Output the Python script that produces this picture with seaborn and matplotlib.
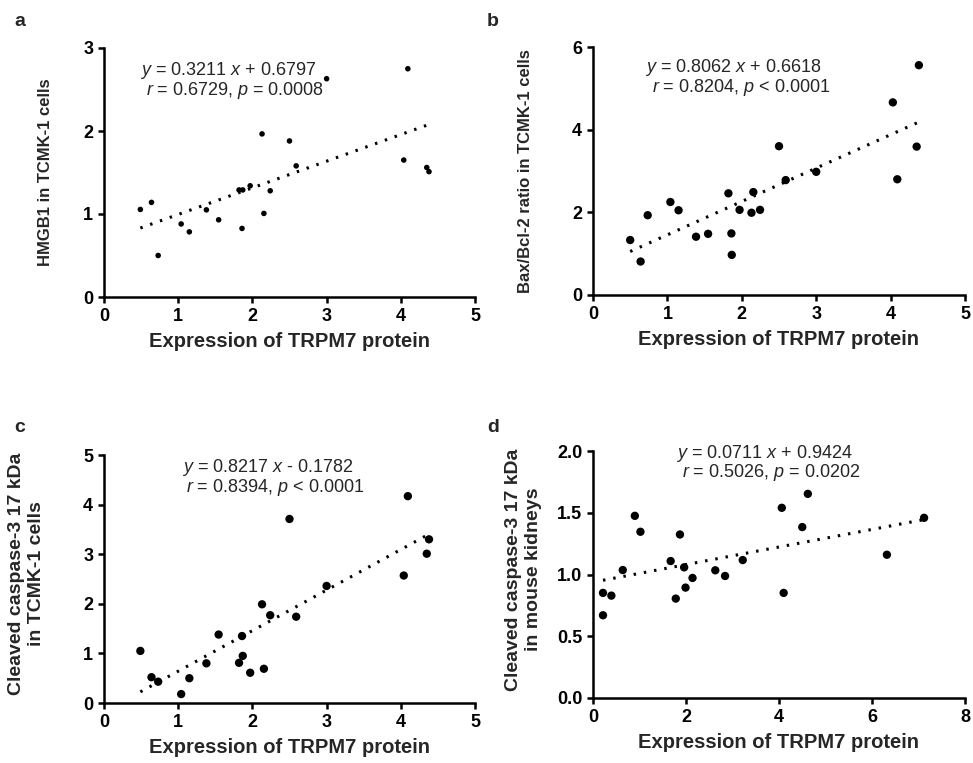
import matplotlib
matplotlib.use('Agg')
import matplotlib.pyplot as plt
import seaborn as sns

# shared x (TRPM7 expression, TCMK-1 cells)
trpm7_cells = [0.49, 0.64, 0.73, 1.04, 1.15, 1.38, 1.545, 1.82, 1.87, 1.86, 1.97,
               2.13, 2.155, 2.24, 2.50, 2.59, 3.00, 4.04, 4.095, 4.35, 4.38]
hmgb1 = [1.055, 1.14, 0.50, 0.88, 0.785, 1.05, 0.93, 1.29, 1.29, 0.826, 1.34,
         1.965, 1.007, 1.28, 1.88, 1.58, 2.63, 1.65, 2.75, 1.56, 1.51]
bax_bcl2_x = [0.50, 0.64, 0.735, 1.04, 1.15, 1.385, 1.547, 1.82, 1.86, 1.865, 1.97,
              2.13, 2.155, 2.245, 2.50, 2.59, 3.00, 4.03, 4.09, 4.35, 4.38]
bax_bcl2 = [1.33, 0.81, 1.93, 2.25, 2.05, 1.41, 1.48, 2.46, 1.49, 0.97, 2.06,
            1.99, 2.49, 2.06, 3.60, 2.78, 2.98, 4.66, 2.80, 3.59, 5.56]
casp3_cells_x = [0.49, 0.64, 0.73, 1.04, 1.15, 1.38, 1.545, 1.82, 1.86, 1.87, 1.97,
                 2.13, 2.155, 2.24, 2.50, 2.59, 3.00, 4.04, 4.095, 4.35, 4.38]
casp3_cells = [1.05, 0.52, 0.43, 0.18, 0.50, 0.80, 1.38, 0.81, 1.35, 0.95, 0.61,
               1.99, 0.69, 1.77, 3.71, 1.74, 2.36, 2.57, 4.17, 3.01, 3.30]
# mouse kidneys
trpm7_kidney = [0.215, 0.215, 0.395, 0.64, 0.90, 1.02, 1.67, 1.78, 1.87, 1.96, 1.99,
                2.14, 2.63, 2.84, 3.22, 4.06, 4.10, 4.50, 4.62, 6.32, 7.12]
casp3_kidney = [0.851, 0.67, 0.829, 1.036, 1.475, 1.346, 1.109, 0.805, 1.324, 1.058, 0.894,
                0.972, 1.034, 0.988, 1.117, 1.54, 0.851, 1.384, 1.653, 1.16, 1.459]

W, H = 973, 763
plt.rcParams['mathtext.fontset'] = 'custom'
plt.rcParams['mathtext.rm'] = 'Liberation Sans'
plt.rcParams['mathtext.it'] = 'Liberation Sans:italic'

sns.set_theme(style='ticks')
plt.rcParams['font.family'] = ['Liberation Sans', 'DejaVu Sans']

fig = plt.figure(figsize=(W / 100, H / 100), dpi=100)


def px_axes(x0, x1, y0, y1):
    return fig.add_axes([x0 / W, 1 - y1 / H, (x1 - x0) / W, (y1 - y0) / H])


panels = [
    dict(ax=px_axes(104, 475, 48, 297), x=trpm7_cells, y=hmgb1, s=16,
         xlim=(0, 5), xt=[0, 1, 2, 3, 4, 5], ylim=(0, 3), yt=[0, 1, 2, 3], yfmt='%d',
         ylabel='HMGB1 in TCMK-1 cells', yfs=12, ylc=(-0.137, 0.5), letter='a', lpos=(14, 26),
         eq=('$y$ = 0.3211 $x$ + 0.6797', '$r$ = 0.6729, $p$ = 0.0008'),
         tpos=((140, 75), (146.5, 95))),
    dict(ax=px_axes(593, 965, 47, 295), x=bax_bcl2_x, y=bax_bcl2, s=36,
         xlim=(0, 5), xt=[0, 1, 2, 3, 4, 5], ylim=(0, 6), yt=[0, 2, 4, 6], yfmt='%d',
         ylabel='Bax/Bcl-2 ratio in TCMK-1 cells', yfs=12, ylc=(-0.162, 0.5), letter='b',
         lpos=(487, 26),
         eq=('$y$ = 0.8062 $x$ + 0.6618', '$r$ = 0.8204, $p$ < 0.0001'),
         tpos=((645, 72), (651.5, 92.5))),
    dict(ax=px_axes(104, 475, 455, 703), x=casp3_cells_x, y=casp3_cells, s=36,
         xlim=(0, 5), xt=[0, 1, 2, 3, 4, 5], ylim=(0, 5), yt=[0, 1, 2, 3, 4, 5], yfmt='%d',
         ylabel='Cleaved caspase-3 17 kDa\nin TCMK-1 cells', yfs=14, ylc=(-0.159, 0.52),
         letter='c', lpos=(14, 432),
         eq=('$y$ = 0.8217 $x$ - 0.1782', '$r$ = 0.8394, $p$ < 0.0001'),
         tpos=((181.5, 472), (185.5, 492))),
    dict(ax=px_axes(593, 965, 451, 698), x=trpm7_kidney, y=casp3_kidney, s=36,
         xlim=(0, 8), xt=[0, 2, 4, 6, 8], ylim=(0, 2), yt=[0, 0.5, 1.0, 1.5, 2.0], yfmt='%.1f',
         ylabel='Cleaved caspase-3 17 kDa\nin mouse kidneys', yfs=14, ylc=(-0.137, 0.52),
         letter='d', lpos=(487, 432),
         eq=('$y$ = 0.0711 $x$ + 0.9424', '$r$ = 0.5026, $p$ = 0.0202'),
         tpos=((676.5, 457.5), (681.5, 477.5))),
]

for p in panels:
    ax = p['ax']
    sns.scatterplot(x=p['x'], y=p['y'], ax=ax, color='black', s=p['s'],
                    edgecolor='none', zorder=3)
    sns.regplot(x=p['x'], y=p['y'], ax=ax, scatter=False, ci=None, color='black',
                line_kws=dict(linestyle=(0, (0.8, 2.6)), linewidth=2.2))
    ax.set_xlim(*p['xlim'])
    ax.set_ylim(*p['ylim'])
    ax.set_xticks(p['xt'])
    ax.set_yticks(p['yt'])
    ax.set_yticklabels([p['yfmt'] % v for v in p['yt']])
    sns.despine(ax=ax)
    for sp in ('left', 'bottom'):
        ax.spines[sp].set_linewidth(1.8)
        ax.spines[sp].set_color('black')
    ax.tick_params(width=1.8, length=4.3, labelsize=13, colors='black', pad=3.5)
    for lab in ax.get_xticklabels() + ax.get_yticklabels():
        lab.set_fontweight('bold')
    ax.set_xlabel('Expression of TRPM7 protein', fontsize=14.5, fontweight='bold', labelpad=5)
    ax.set_ylabel(p['ylabel'], fontsize=p['yfs'], fontweight='bold', linespacing=1.25)
    ax.yaxis.set_label_coords(*p['ylc'])
    fig.text(p['lpos'][0] / W, 1 - p['lpos'][1] / H, p['letter'], fontsize=14,
             fontweight='bold', va='baseline')
    for line, (tx, ty) in zip(p['eq'], p['tpos']):
        fig.text(tx / W, 1 - ty / H, line, fontsize=13, va='baseline', ha='left')

fig.savefig('out.png', dpi=100)
